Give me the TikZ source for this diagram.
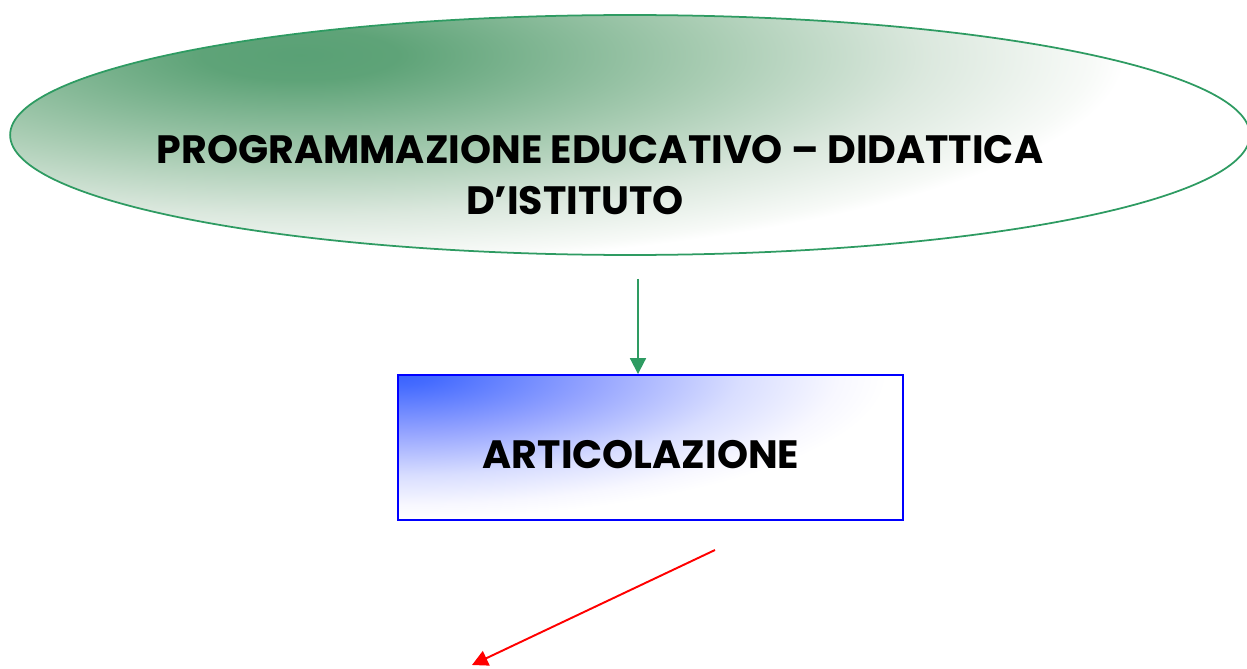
\documentclass[tikz,border=0pt]{standalone}
\usepackage{fontspec}
\setmainfont{Poppins}
\usetikzlibrary{shapes.geometric,arrows.meta,backgrounds}

\definecolor{progline}{RGB}{46,155,98}
\definecolor{artline}{RGB}{0,0,255}
\definecolor{arrowred}{RGB}{255,0,0}

% shadings for the two boxes (centred, clipped later)
\pgfdeclareradialshading{progshade}{\pgfpointorigin}{%
  rgb(0bp)=(0.35,0.63,0.46); rgb(3bp)=(0.37,0.64,0.47);
  rgb(12.5bp)=(0.66,0.80,0.70); rgb(19bp)=(0.86,0.91,0.87);
  rgb(24bp)=(0.97,0.98,0.97); rgb(25bp)=(1,1,1); rgb(50bp)=(1,1,1)}
\pgfdeclareradialshading{artshade}{\pgfpointorigin}{%
  rgb(0bp)=(0.22,0.38,1); rgb(2bp)=(0.27,0.42,1);
  rgb(10bp)=(0.58,0.64,1); rgb(17.5bp)=(0.85,0.87,1);
  rgb(22.5bp)=(0.97,0.97,1); rgb(25bp)=(1,1,1); rgb(50bp)=(1,1,1)}

\tikzset{
  bigtext/.style={font=\bfseries\fontsize{22.5}{29}\selectfont, align=center},
}

\begin{document}
\begin{tikzpicture}[x=0.02cm, y=-0.02cm]
  \useasboundingbox (0,0) rectangle (1247,669);
  \node[ellipse, minimum width=24.8cm, minimum height=4.8cm,
        draw=progline, line width=1pt] (prog) at (630,135) {};
  \node[bigtext] (progtext) at (600,175)
        {PROGRAMMAZIONE EDUCATIVO – DIDATTICA\\D’ISTITUTO\hspace*{1cm}};
  \node[rectangle, minimum width=10.1cm, minimum height=2.9cm, inner sep=0pt,
        draw=artline, line width=1.1pt] (art) at (650.5,447.5) {};
  \node[bigtext] (arttext) at (641,455) {ARTICOLAZIONE};
  \begin{scope}[on background layer]
    \begin{scope}
      \clip (prog.center) ellipse [x radius=12.4cm, y radius=2.4cm];
      \shade[shading=progshade] (300,55) ellipse [x radius=16.5cm, y radius=4.2cm];
    \end{scope}
    \begin{scope}
      \clip (art.south west) rectangle (art.north east);
      \shade[shading=artshade] (art.north west) ellipse [x radius=9.8cm, y radius=2.9cm];
    \end{scope}
  \end{scope}
  \coordinate (redtail) at (715,550);
  \coordinate (redtip) at (472,665);
  \draw[progline, line width=1.1pt, -{Triangle[length=9pt,width=9pt]}, shorten <=0.46cm]
        ([xshift=0.16cm]prog.south) -- ([xshift=0.16cm]prog.south |- art.north);
  \draw[arrowred, line width=1.1pt, -{Triangle[length=9pt,width=9pt]}] (redtail) -- (redtip);
\end{tikzpicture}
\end{document}
